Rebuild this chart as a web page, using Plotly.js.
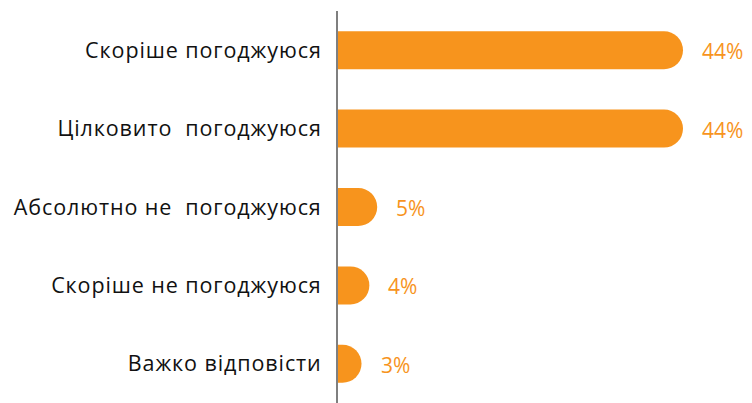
<!DOCTYPE html>
<html>
<head>
<meta charset="utf-8">
<script src="https://cdn.plot.ly/plotly-3.0.1.min.js"></script>
<style>html,body{margin:0;padding:0;background:#fff;}#chart{width:752px;height:403px;}
#chart .ytick text{letter-spacing:0.9px;}</style>
</head>
<body>
<div id="chart"></div>
<script>
var categories = ["Скоріше погоджуюся", "Цілковито\u00a0 погоджуюся", "Абсолютно не\u00a0 погоджуюся", "Скоріше не погоджуюся", "Важко відповісти"];
var values = [44, 44, 5, 4, 3];
var valueLabels = ["44%", "44%", "5%", "4%", "3%"];

var orange = "#F7941D";

var trace = {
  type: "bar",
  orientation: "h",
  x: values,
  y: categories,
  marker: {color: orange, cornerradius: "50%"},
  hoverinfo: "skip"
};

var annotations = values.map(function(v, i) {
  return {
    x: v, y: categories[i], xref: "x", yref: "y",
    text: valueLabels[i], showarrow: false,
    xanchor: "left", xshift: 17, yshift: -1,
    font: {family: "Open Sans, sans-serif", size: 21, color: orange}
  };
});

var layout = {
  width: 752, height: 403,
  margin: {l: 338, r: 0, t: 11, b: 0},
  paper_bgcolor: "#fff", plot_bgcolor: "#fff",
  showlegend: false,
  bargap: 0.515,
  xaxis: {range: [0, 52.8], showgrid: false, zeroline: false, showticklabels: false, showline: false, fixedrange: true},
  yaxis: {
    autorange: "reversed", showgrid: false, zeroline: false,
    showline: true, linecolor: "#7f7f7f", linewidth: 2,
    ticks: "", ticklabelstandoff: 10,
    tickfont: {family: "Open Sans, sans-serif", size: 21.5, color: "#111"}
  },
  annotations: annotations
};

Plotly.newPlot("chart", [trace], layout, {displayModeBar: false, staticPlot: true});
</script>
</body>
</html>
